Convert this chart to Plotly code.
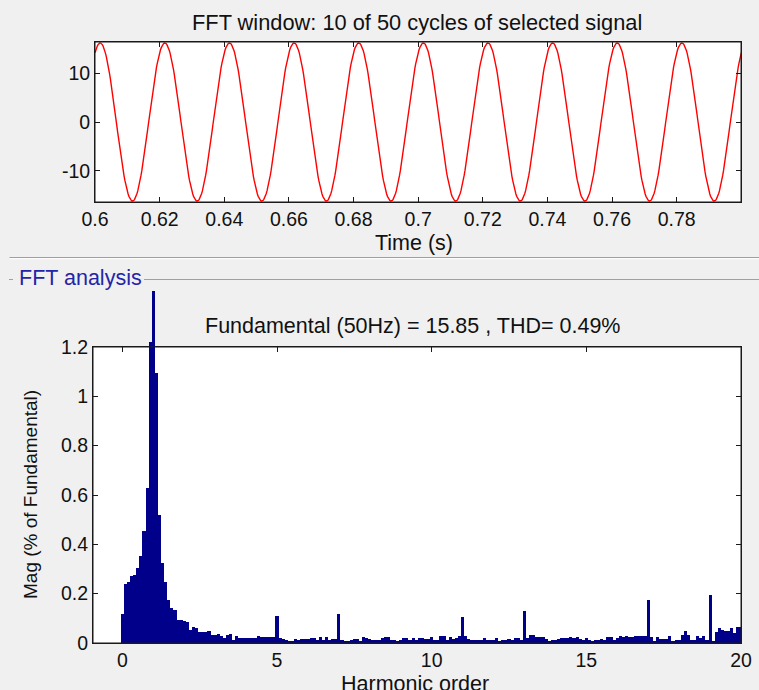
import numpy as np
import plotly.graph_objects as go

W, H = 759, 690

# ---------------- data ----------------
# top panel: the selected 50 Hz signal (pure sinusoid, parameters)
time_window = [0.6, 0.8]
signal_amplitude = 16.2
signal_frequency = 50.0
signal_first_peak = 0.6016
samples_per_second = 4000
top_ytick_vals = [-10, 0, 10]
top_ytick_text = ["-10", "0", "10"]

# bottom panel: FFT spectrum, 5 Hz resolution (0.1 harmonic order per bar)
harmonic_step = 0.1
mag_percent = [
    0.117, 0.239, 0.249, 0.270, 0.276, 0.303, 0.351, 0.454, 0.627, 1.219,   # 0.0-0.9
    1.426, 1.095, 0.518, 0.326, 0.249, 0.175, 0.142, 0.135, 0.095, 0.095,   # 1.0-1.9
    0.090, 0.084, 0.054, 0.065, 0.061, 0.043, 0.043, 0.043, 0.049, 0.032,   # 2
    0.032, 0.036, 0.027, 0.020, 0.032, 0.038, 0.011, 0.030, 0.019, 0.019,   # 3
    0.019, 0.019, 0.019, 0.019, 0.030, 0.024, 0.023, 0.023, 0.023, 0.023,   # 4
    0.111, 0.022, 0.016, 0.013, 0.008, 0.008, 0.016, 0.013, 0.016, 0.016,   # 5
    0.016, 0.019, 0.019, 0.013, 0.024, 0.012, 0.024, 0.012, 0.018, 0.018,   # 6
    0.118, 0.013, 0.008, 0.008, 0.013, 0.017, 0.016, 0.007, 0.023, 0.020,   # 7
    0.016, 0.011, 0.011, 0.011, 0.020, 0.024, 0.024, 0.014, 0.014, 0.009,   # 8
    0.014, 0.019, 0.019, 0.014, 0.019, 0.011, 0.019, 0.019, 0.015, 0.015,   # 9
    0.023, 0.011, 0.011, 0.030, 0.027, 0.011, 0.024, 0.016, 0.020, 0.027,   # 10
    0.104, 0.030, 0.016, 0.014, 0.014, 0.014, 0.014, 0.020, 0.011, 0.011,   # 11
    0.011, 0.020, 0.009, 0.014, 0.014, 0.018, 0.014, 0.020, 0.020, 0.011,   # 12
    0.130, 0.020, 0.031, 0.031, 0.023, 0.023, 0.024, 0.016, 0.009, 0.011,   # 13
    0.011, 0.016, 0.019, 0.019, 0.019, 0.023, 0.019, 0.024, 0.018, 0.014,   # 14
    0.020, 0.011, 0.007, 0.014, 0.014, 0.018, 0.014, 0.023, 0.023, 0.014,   # 15
    0.020, 0.027, 0.023, 0.030, 0.024, 0.024, 0.030, 0.030, 0.030, 0.030,   # 16
    0.176, 0.023, 0.007, 0.023, 0.016, 0.016, 0.016, 0.027, 0.009, 0.011,   # 17
    0.011, 0.031, 0.047, 0.034, 0.014, 0.014, 0.030, 0.020, 0.027, 0.014,   # 18
    0.193, 0.009, 0.043, 0.061, 0.051, 0.047, 0.047, 0.059, 0.040, 0.065,   # 19
    0.065,                                                                  # 20
]
harmonic_order = [round(k * harmonic_step, 1) for k in range(len(mag_percent))]

top_title = "FFT window: 10 of 50 cycles of selected signal"
bottom_title = "Fundamental (50Hz) = 15.85 , THD= 0.49%"
panel_title = "FFT analysis"

# ---------------- build ----------------
t = np.arange(time_window[0], time_window[1] + 1e-9, 1.0 / samples_per_second)
sig = signal_amplitude * np.cos(2 * np.pi * signal_frequency * (t - signal_first_peak))

FONT = "Liberation Sans, Arial, sans-serif"
TXT = "#111111"
AX = "#1a1a1a"
NAVY = "#00008B"

def fx(p):
    return p / W

def fy(p):
    return 1 - p / H

# axes boxes (pixels)
T_L, T_R, T_T, T_B = 95, 741, 42, 202
B_L, B_R, B_T, B_B = 93, 741, 347, 643

fig = go.Figure()
fig.add_trace(go.Scatter(x=t, y=sig, mode="lines",
                         line=dict(color="#ff0000", width=1.4),
                         xaxis="x", yaxis="y", showlegend=False, hoverinfo="skip"))
# empty trace so that the x2/y2 frame subplot exists
fig.add_trace(go.Scatter(x=[], y=[], mode="lines", xaxis="x2", yaxis="y2",
                         showlegend=False, hoverinfo="skip"))
fig.add_trace(go.Bar(x=harmonic_order, y=mag_percent, width=harmonic_step,
                     marker=dict(color=NAVY, line=dict(width=0)),
                     xaxis="x2", yaxis="y3", showlegend=False))

ymax_b = 1.2
y3_top = ymax_b * (B_B - 0) / (B_B - B_T)

tickfont = dict(family=FONT, size=19.5, color=TXT)
common = dict(ticks="inside", ticklen=5, tickcolor=AX, tickwidth=1,
              showgrid=False, zeroline=False, showline=True, linecolor=AX,
              linewidth=1, mirror="ticks", tickfont=tickfont, ticklabelstandoff=0)

fig.update_layout(
    width=W, height=H,
    margin=dict(l=0, r=0, t=0, b=0, autoexpand=False),
    paper_bgcolor="#f0f0f0",
    plot_bgcolor="rgba(0,0,0,0)",
    bargap=0,
    xaxis=dict(domain=[fx(T_L), fx(T_R)], range=[time_window[0], time_window[1] - 0.0001],
               tick0=0.6, dtick=0.02, anchor="y", **common),
    yaxis=dict(domain=[fy(T_B), fy(T_T)], range=[-16.4, 16.4],
               tickmode="array", tickvals=top_ytick_vals, ticktext=top_ytick_text,
               anchor="x", **common),
    xaxis2=dict(domain=[fx(B_L), fx(B_R)], range=[-0.95, 20], tick0=0, dtick=5,
                anchor="y2", **common),
    yaxis2=dict(domain=[fy(B_B), fy(B_T)], range=[0, ymax_b], tick0=0, dtick=0.2,
                anchor="x2", **common),
    yaxis3=dict(domain=[fy(B_B), 1.0], range=[0, y3_top], visible=False,
                anchor="x2", fixedrange=True),
)

shapes = []
for (l, r, tp, b) in [(T_L, T_R, T_T, T_B), (B_L, B_R, B_T, B_B)]:
    shapes.append(dict(type="rect", xref="paper", yref="paper", layer="below",
                       x0=fx(l), x1=fx(r), y0=fy(b), y1=fy(tp),
                       fillcolor="white", line=dict(width=0)))
for (l, r, tp, b) in [(T_L, T_R, T_T, T_B), (B_L, B_R, B_T, B_B)]:
    shapes.append(dict(type="rect", xref="paper", yref="paper", layer="above",
                       x0=fx(l), x1=fx(r), y0=fy(b), y1=fy(tp),
                       fillcolor="rgba(0,0,0,0)", line=dict(width=1, color=AX)))
shapes += [
    dict(type="line", xref="paper", yref="paper", x0=fx(9.5), x1=1, y0=fy(257.5), y1=fy(257.5),
         line=dict(color="#a0a0a0", width=1)),
    dict(type="line", xref="paper", yref="paper", x0=fx(9.5), x1=1, y0=fy(258.8), y1=fy(258.8),
         line=dict(color="#ffffff", width=1)),
    dict(type="line", xref="paper", yref="paper", x0=fx(144), x1=1, y0=fy(279.5), y1=fy(279.5),
         line=dict(color="#a0a0a0", width=1)),
    dict(type="line", xref="paper", yref="paper", x0=fx(9), x1=fx(13), y0=fy(279.5), y1=fy(279.5),
         line=dict(color="#a0a0a0", width=1)),
]
fig.update_layout(shapes=shapes)

ann = [
    dict(text=top_title, x=fx(416.5), y=fy(22.5), size=21.8, color=TXT),
    dict(text="Time (s)", x=fx(414), y=fy(242.5), size=21.5, color=TXT),
    dict(text=bottom_title, x=fx(413), y=fy(326), size=21.5, color=TXT),
    dict(text="Harmonic order", x=fx(415), y=fy(684), size=21.5, color=TXT),
    dict(text=panel_title, x=fx(80), y=fy(278.5), size=21.5, color="#2424a8"),
]
annotations = []
for a in ann:
    annotations.append(dict(text=a["text"], xref="paper", yref="paper", x=a["x"], y=a["y"],
                            xanchor="center", yanchor="middle", showarrow=False,
                            font=dict(family=FONT, size=a["size"], color=a["color"])))
annotations.append(dict(text="Mag (% of Fundamental)", xref="paper", yref="paper",
                        x=fx(30), y=fy(495), xanchor="center", yanchor="middle",
                        textangle=-90, showarrow=False,
                        font=dict(family=FONT, size=19, color=TXT)))
fig.update_layout(annotations=annotations)

fig.write_html("out.html", config={"displayModeBar": False},
               post_script="document.body.style.margin='0px';")
